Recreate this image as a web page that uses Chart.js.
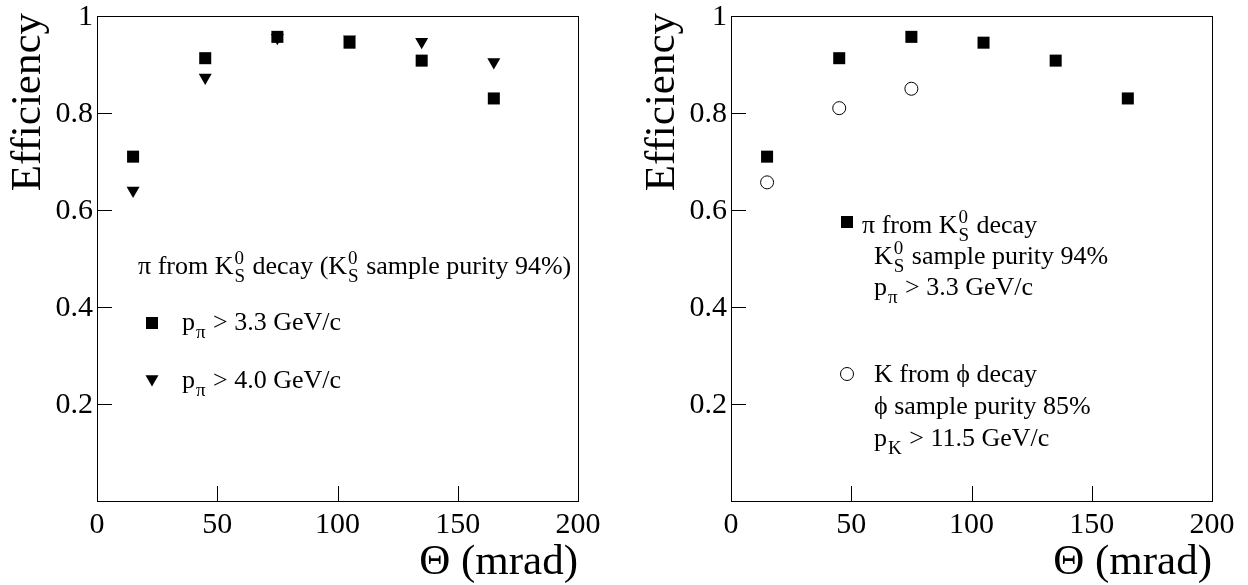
<!DOCTYPE html>
<html>
<head>
<meta charset="utf-8">
<script src="https://cdn.jsdelivr.net/npm/chart.js@4/dist/chart.umd.min.js"></script>
<style>
html,body{margin:0;padding:0;background:#fff;}
#wrap{position:relative;width:1248px;height:585px;overflow:hidden;}
canvas{position:absolute;top:0;}
</style>
</head>
<body>
<div id="wrap">
<canvas id="left" width="624" height="585" style="left:0"></canvas>
<canvas id="right" width="624" height="585" style="left:624px"></canvas>
</div>
<script>
// ---- data ----
const theta = [15, 45, 75, 105, 135, 165];
const effPiLow = [0.71, 0.913, 0.957, 0.945, 0.908, 0.83];   // p_pi > 3.3 GeV/c
const effPiHigh = [0.64, 0.873, 0.955, 0.952, 0.947, 0.905]; // p_pi > 4.0 GeV/c
const thetaK = [15, 45, 75];
const effK = [0.657, 0.81, 0.85];                          // K from phi decay
const xTickValues = [0, 50, 100, 150, 200];
const xTickLabels = ['0', '50', '100', '150', '200'];
const yTickValues = [0.2, 0.4, 0.6, 0.8, 1];
const yTickLabels = ['0.2', '0.4', '0.6', '0.8', '1'];
const xTitle = 'Θ (mrad)';
const yTitle = 'Efficiency';

const FONT = '"Liberation Serif","Times New Roman",Times,serif';
const TICK_SIZE = 30, TITLE_SIZE = 43, LEG_SIZE = 26, SMALL = 19;

const squareStyle = {pointStyle: 'rect', radius: 8.5, rotation: 0, borderWidth: 0, bg: '#000', border: '#000'};
const triStyle = {pointStyle: 'triangle', radius: 7.5, rotation: 180, borderWidth: 0, bg: '#000', border: '#000'};
const circStyle = {pointStyle: 'circle', radius: 6.5, rotation: 0, borderWidth: 1, bg: '#fff', border: '#000'};

function toXY(xs, ys) { return xs.map((x, i) => ({x: x, y: ys[i]})); }

function ds(label, xs, ys, st) {
  return {
    label: label, data: toXY(xs, ys),
    pointStyle: st.pointStyle, pointRadius: st.radius, pointRotation: st.rotation,
    pointBorderWidth: st.borderWidth, pointBackgroundColor: st.bg, pointBorderColor: st.border,
    pointHoverRadius: st.radius, showLine: false
  };
}

// rich text: parts are strings or {sub, sup}
function drawRich(ctx, x, y, parts) {
  ctx.textAlign = 'left';
  ctx.textBaseline = 'alphabetic';
  ctx.fillStyle = '#000';
  for (const p of parts) {
    if (typeof p === 'string') {
      ctx.font = LEG_SIZE + 'px ' + FONT;
      ctx.fillText(p, x, y);
      x += ctx.measureText(p).width;
    } else {
      ctx.font = SMALL + 'px ' + FONT;
      let w = 0;
      if (p.sup) { ctx.fillText(p.sup, x + 1, y - 10); w = Math.max(w, ctx.measureText(p.sup).width); }
      if (p.sub) { ctx.fillText(p.sub, x + 1, y + 8); w = Math.max(w, ctx.measureText(p.sub).width); }
      x += w + 2;
    }
  }
}

function marker(ctx, st, x, y) {
  ctx.save();
  ctx.fillStyle = st.bg; ctx.strokeStyle = st.border; ctx.lineWidth = st.borderWidth;
  Chart.helpers.drawPoint(ctx, {pointStyle: st.pointStyle, radius: st.radius, rotation: st.rotation, borderWidth: st.borderWidth}, x, y);
  ctx.restore();
}

const framePlugin = {
  id: 'frameAxes',
  beforeDatasetsDraw(chart) {
    const ctx = chart.ctx, a = chart.chartArea, xs = chart.scales.x, ys = chart.scales.y;
    ctx.save();
    ctx.strokeStyle = '#000'; ctx.lineWidth = 1;
    ctx.strokeRect(Math.round(a.left) + 0.5, Math.round(a.top) + 0.5, Math.round(a.right - a.left), Math.round(a.bottom - a.top));
    ctx.beginPath();
    yTickValues.forEach(v => {
      const py = Math.round(ys.getPixelForValue(v)) + 0.5;
      ctx.moveTo(a.left, py); ctx.lineTo(a.left + 15, py);
    });
    xTickValues.forEach(v => {
      const px = Math.round(xs.getPixelForValue(v)) + 0.5;
      ctx.moveTo(px, a.bottom); ctx.lineTo(px, a.bottom - 15);
    });
    ctx.stroke();
    // tick labels
    ctx.fillStyle = '#000';
    ctx.font = TICK_SIZE + 'px ' + FONT;
    ctx.textAlign = 'right'; ctx.textBaseline = 'middle';
    yTickValues.forEach((v, i) => ctx.fillText(yTickLabels[i], a.left - 4, ys.getPixelForValue(v) + 1));
    ctx.textAlign = 'center'; ctx.textBaseline = 'alphabetic';
    xTickValues.forEach((v, i) => ctx.fillText(xTickLabels[i], xs.getPixelForValue(v), a.bottom + 32));
    // titles
    ctx.font = TITLE_SIZE + 'px ' + FONT;
    ctx.textAlign = 'right';
    ctx.fillText(xTitle, a.right, 574);
    ctx.save();
    ctx.translate(a.left - 57, a.top - 3);
    ctx.rotate(-Math.PI / 2);
    ctx.textAlign = 'right';
    ctx.fillText(yTitle, 0, 0);
    ctx.restore();
    ctx.restore();
  },
  afterDraw(chart, args, opts) {
    const ctx = chart.ctx;
    ctx.save();
    (opts.markers || []).forEach(m => marker(ctx, m.st, m.x, m.y));
    (opts.lines || []).forEach(l => drawRich(ctx, l.x, l.y, l.parts));
    ctx.restore();
  }
};

function makeChart(id, datasets, pad, legend) {
  return new Chart(document.getElementById(id), {
    type: 'scatter',
    data: {datasets: datasets},
    options: {
      responsive: false, animation: false, events: [],
      layout: {padding: pad},
      scales: {
        x: {type: 'linear', min: 0, max: 200, display: false},
        y: {type: 'linear', min: 0, max: 1, display: false}
      },
      plugins: {legend: {display: false}, tooltip: {enabled: false}, frameAxes: legend}
    },
    plugins: [framePlugin]
  });
}

const KS = {sup: '0', sub: 'S'};

makeChart('left',
  [ds('p_pi > 3.3 GeV/c', theta, effPiLow, squareStyle), ds('p_pi > 4.0 GeV/c', theta, effPiHigh, triStyle)],
  {left: 97, right: 46, top: 16, bottom: 84},
  {
    markers: [{st: squareStyle, x: 152, y: 323}, {st: triStyle, x: 152, y: 379}],
    lines: [
      {x: 138, y: 274, parts: ['π from K', KS, ' decay (K', KS, ' sample purity 94%)']},
      {x: 182, y: 330, parts: ['p', {sub: 'π'}, ' > 3.3 GeV/c']},
      {x: 182, y: 388, parts: ['p', {sub: 'π'}, ' > 4.0 GeV/c']}
    ]
  });

makeChart('right',
  [ds('π from K0S decay', theta, effPiLow, squareStyle), ds('K from ϕ decay', thetaK, effK, circStyle)],
  {left: 107, right: 36, top: 16, bottom: 84},
  {
    markers: [{st: squareStyle, x: 223, y: 222}, {st: circStyle, x: 223, y: 374}],
    lines: [
      {x: 238, y: 233, parts: ['π from K', KS, ' decay']},
      {x: 250, y: 264, parts: ['K', KS, ' sample purity 94%']},
      {x: 250, y: 295, parts: ['p', {sub: 'π'}, ' > 3.3 GeV/c']},
      {x: 250, y: 382, parts: ['K from ϕ decay']},
      {x: 250, y: 414, parts: ['ϕ sample purity 85%']},
      {x: 250, y: 446, parts: ['p', {sub: 'K'}, ' > 11.5 GeV/c']}
    ]
  });
</script>
</body>
</html>
